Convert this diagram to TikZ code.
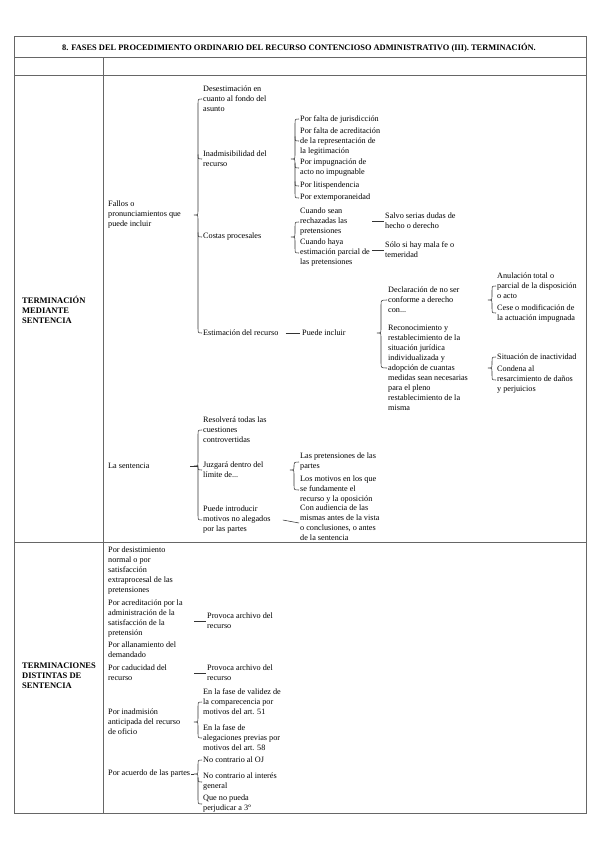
\documentclass[tikz,border=0pt]{standalone}
\usepackage{fontspec}
\setmainfont{Liberation Serif}
\usetikzlibrary{calc}
\newcommand\fan[4]{%
 \draw[br] let \p1=(#3.west), \p2=(#4.west), \p3=(#1.east) in
   (\x1-1pt,\y1) .. controls (#2pt,\y1) .. (#2pt,\y1-5pt)
   -- (#2pt,\y3+4.5pt) .. controls (#2pt,\y3) .. (#2pt-4pt,\y3)
   .. controls (#2pt,\y3) .. (#2pt,\y3-4.5pt)
   -- (#2pt,\y2+5pt) .. controls (#2pt,\y2) .. (\x2-1pt,\y2);}
\newcommand\hook[2]{%
 \draw[br] let \p1=(#2.west) in (#1pt,\y1+4.5pt) .. controls (#1pt,\y1) .. (\x1-1pt,\y1);}
\newcommand\lead[2]{%
 \draw[br] let \p1=(#2.north west) in (\x1-#1pt,\y1-8pt) -- (\x1-1pt,\y1-8pt);}
\begin{document}
\begin{tikzpicture}[x=1pt,y=1pt,
  t/.style={anchor=west,inner sep=0pt,align=left,font=\fontsize{8.2}{10}\selectfont},
  hd/.style={anchor=west,inner sep=0pt,align=left,font=\fontsize{8.5}{10}\selectfont\bfseries},
  br/.style={draw=black!80,line width=0.55pt},
  rule/.style={draw=black!60,line width=1pt}]
\useasboundingbox (0,0) rectangle (599,-848);
% table
\draw[rule] (14,-37) rectangle (586,-813);
\draw[rule] (14,-58) -- (586,-58);
\draw[rule] (14,-76) -- (586,-76);
\draw[rule] (14,-542) -- (586,-542);
\draw[rule] (103,-58) -- (103,-813);
\node[inner sep=0pt,font=\fontsize{8.4}{9}\selectfont\bfseries] (title) at (299,-48)
  {8. FASES DEL PROCEDIMIENTO ORDINARIO DEL RECURSO CONTENCIOSO ADMINISTRATIVO (III). TERMINACIÓN.};
% section labels
\node[hd] (sec1) at (22,-310) {TERMINACIÓN\\MEDIANTE\\SENTENCIA};
\node[hd] (sec2) at (22,-676) {TERMINACIONES\\DISTINTAS DE\\SENTENCIA};
% section 1
\node[t] (fallos) at (108,-215) {Fallos o\\pronunciamientos que\\puede incluir};
\node[t] (lasent) at (108,-466) {La sentencia};
\node[t] (desest) at (203,-99) {Desestimación en\\cuanto al fondo del\\asunto};
\node[t] (inadm) at (203,-159) {Inadmisibilidad del\\recurso};
\node[t] (costas) at (203,-237) {Costas procesales};
\node[t] (estim) at (203,-333) {Estimación del recurso};
\fan{fallos}{198}{desest}{estim}
\hook{198}{inadm}
\hook{198}{costas}
\node[t] (c1) at (300,-119) {Por falta de jurisdicción};
\node[t] (c2) at (300,-141) {Por falta de acreditación\\de la representación de\\la legitimación};
\node[t] (c3) at (300,-168) {Por impugnación de\\acto no impugnable};
\node[t] (c4) at (300,-186) {Por litispendencia};
\node[t] (c5) at (300,-198) {Por extemporaneidad};
\fan{inadm}{295}{c1}{c5}
\hook{295}{c2}
\hook{295}{c3}
\hook{295}{c4}
\node[t] (k1) at (300,-222) {Cuando sean\\rechazadas las\\pretensiones};
\node[t] (k2) at (300,-253) {Cuando haya\\estimación parcial de\\las pretensiones};
\fan{costas}{295}{k1}{k2}
\node[t] (salvo) at (385,-221) {Salvo serias dudas de\\hecho o derecho};
\node[t] (solo) at (385,-250) {Sólo si hay mala fe o\\temeridad};
\lead{13}{salvo}
\lead{13}{solo}
\node[t] (puede) at (302,-333) {Puede incluir};
\draw[br] ([xshift=7pt]estim.east) -- ([xshift=-2pt]puede.west);
\node[t] (decl) at (388,-300) {Declaración de no ser\\conforme a derecho\\con...};
\node[t] (recon) at (388,-368) {Reconocimiento y\\restablecimiento de la\\situación jurídica\\individualizada y\\adopción de cuantas\\medidas sean necesarias\\para el pleno\\restablecimiento de la\\misma};
\fan{puede}{381}{decl}{recon}
\node[t] (e1) at (497,-286) {Anulación total o\\parcial de la disposición\\o acto};
\node[t] (e2) at (497,-313) {Cese o modificación de\\la actuación impugnada};
\fan{decl}{492}{e1}{e2}
\node[t] (e3) at (497,-357) {Situación de inactividad};
\node[t] (e4) at (497,-380) {Condena al\\resarcimiento de daños\\y perjuicios};
\fan{recon}{492}{e3}{e4}
\node[t] (s1) at (203,-430) {Resolverá todas las\\cuestiones\\controvertidas};
\node[t] (s2) at (203,-470) {Juzgará dentro del\\límite de...};
\node[t] (s3) at (203,-520) {Puede introducir\\motivos no alegados\\por las partes};
\fan{lasent}{198}{s1}{s3}
\hook{198}{s2}
\draw[br] let \p1=(lasent.east) in (190,\y1) -- (198,\y1);
\node[t] (j1) at (300,-462) {Las pretensiones de las\\partes};
\node[t] (j2) at (300,-490) {Los motivos en los que\\se fundamente el\\recurso y la oposición};
\fan{s2}{294}{j1}{j2}
\node[t] (aud) at (300,-523) {Con audiencia de las\\mismas antes de la vista\\o conclusiones, o antes\\de la sentencia};
\draw[br] ([xshift=12pt]s3.east) -- ([xshift=-1pt]aud.west);
% section 2
\node[t] (d1) at (108,-571) {Por desistimiento\\normal o por\\satisfacción\\extraprocesal de las\\pretensiones};
\node[t] (d2) at (108,-619) {Por acreditación por la\\administración de la\\satisfacción de la\\pretensión};
\node[t] (d3) at (108,-650) {Por allanamiento del\\demandado};
\node[t] (d4) at (108,-673) {Por caducidad del\\recurso};
\node[t] (d5) at (108,-722) {Por inadmisión\\anticipada del recurso\\de oficio};
\node[t] (d6) at (108,-774) {Por acuerdo de las partes};
\node[t] (pa1) at (207,-621) {Provoca archivo del\\recurso};
\node[t] (pa2) at (207,-673) {Provoca archivo del\\recurso};
\lead{13}{pa1}
\lead{13}{pa2}
\node[t] (f1) at (203,-702) {En la fase de validez de\\la comparecencia por\\motivos del art. 51};
\node[t] (f2) at (203,-738) {En la fase de\\alegaciones previas por\\motivos del art. 58};
\fan{d5}{198}{f1}{f2}
\node[t] (g1) at (203,-760) {No contrario al OJ};
\node[t] (g2) at (203,-782) {No contrario al interés\\general};
\node[t] (g3) at (203,-804) {Que no pueda\\perjudicar a 3º};
\fan{d6}{198}{g1}{g3}
\hook{198}{g2}
\draw[br] ([xshift=1pt]d6.east) -- (194,-774);
\end{tikzpicture}
\end{document}
